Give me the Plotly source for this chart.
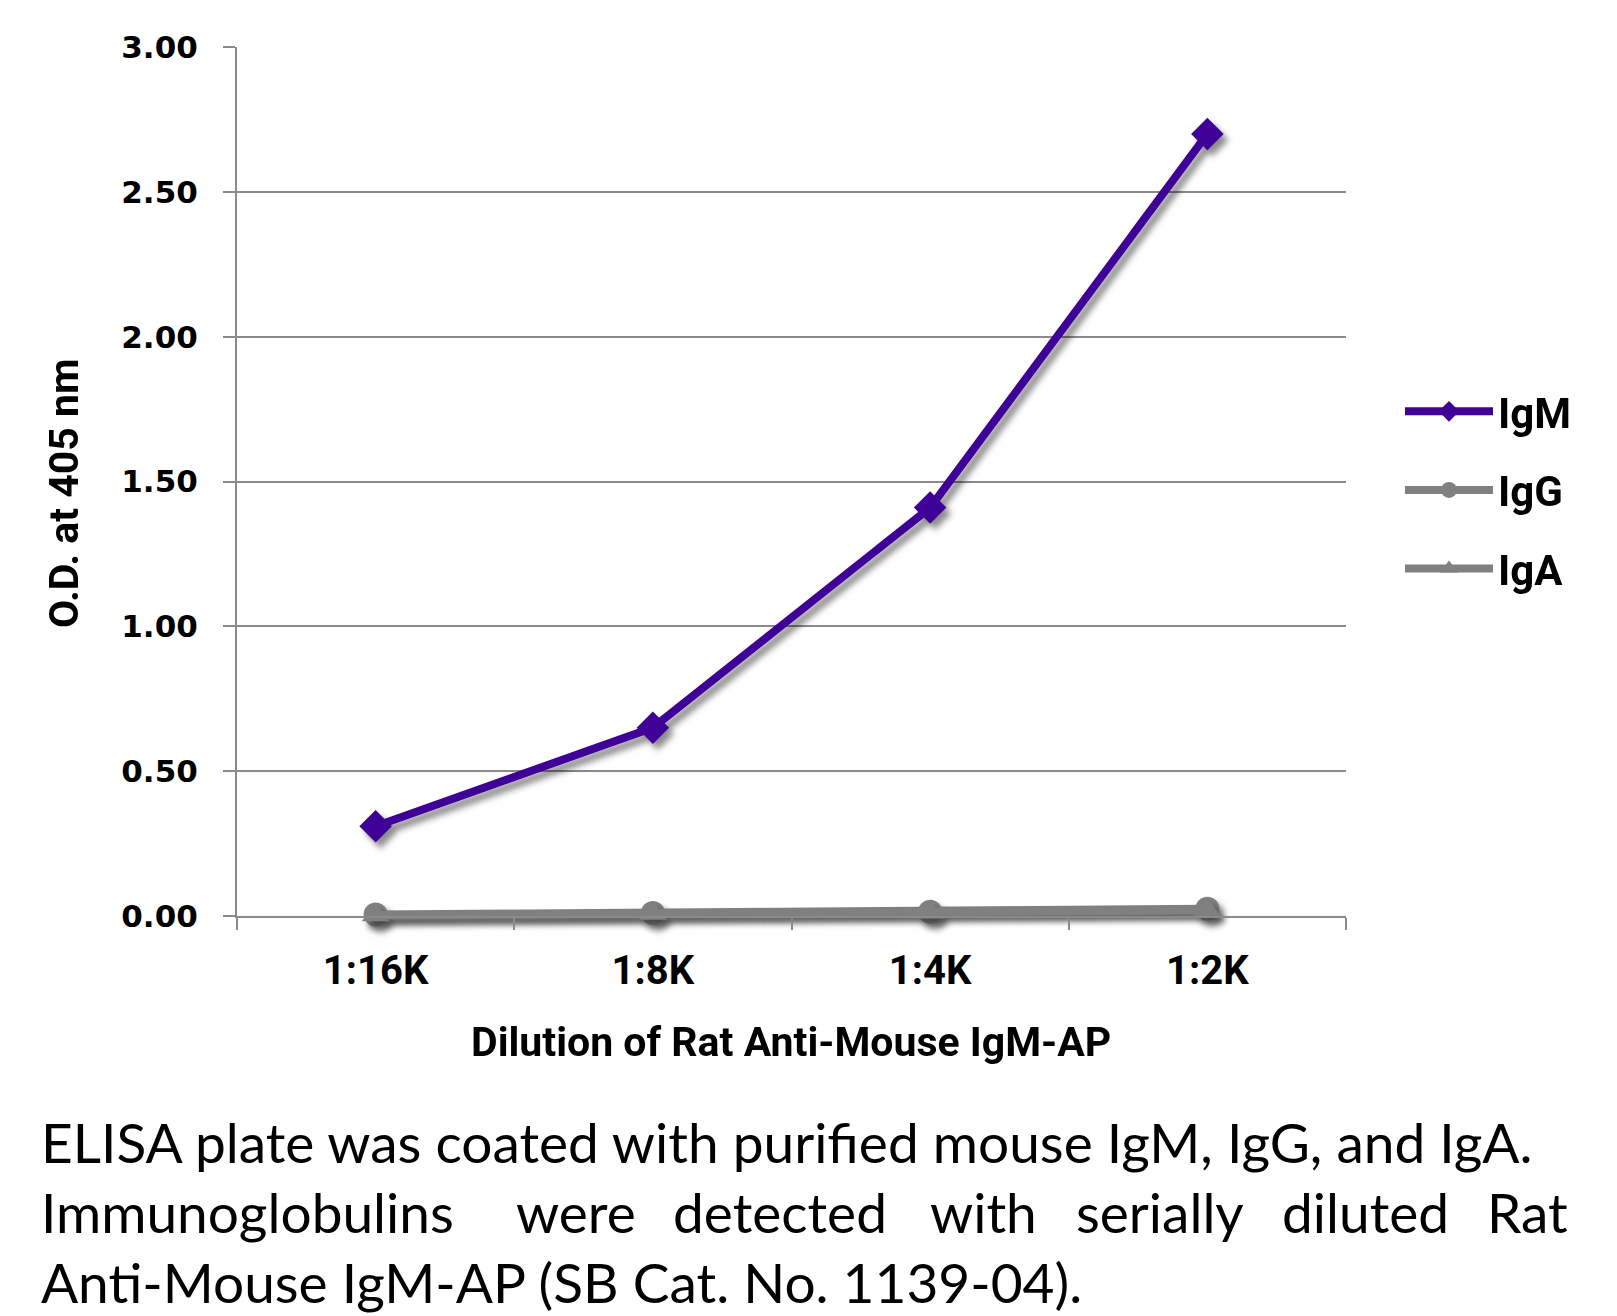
import plotly.graph_objects as go

# dilution series (x categories) and O.D. readings
dilutions = ["1:16K", "1:8K", "1:4K", "1:2K"]
igm = [0.31, 0.65, 1.41, 2.70]
igg = [0.005, 0.01, 0.015, 0.025]
iga = [0.003, 0.008, 0.012, 0.02]

y_ticks = [0, 0.5, 1.0, 1.5, 2.0, 2.5, 3.0]

caption_line1 = "ELISA plate was coated with purified mouse IgM, IgG, and IgA."
caption_line2 = ["Immunoglobulins", "were", "detected", "with", "serially", "diluted", "Rat"]
caption_line3 = "Anti-Mouse IgM-AP (SB Cat. No. 1139-04)."

W, H = 1617, 1316
L, R, T, B = 237, 1346, 47, 916

PURPLE = "#3f0097"
GREY = "#808080"
GRID = "#8a8a8a"


def px_x(px):
    return (px - L) / (R - L)


def px_y(py):
    return (B - py) / (B - T)


fig = go.Figure()

series = [
    ("IgM", igm, PURPLE, "diamond", 25),
    ("IgG", igg, GREY, "circle", 24),
    ("IgA", iga, GREY, "triangle-up", 24),
]
for name, vals, color, symbol, size in series:
    fig.add_trace(
        go.Scatter(
            x=dilutions,
            y=vals,
            name=name,
            legendgroup=name,
            mode="lines+markers",
            line=dict(color=color, width=8),
            marker=dict(symbol=symbol, size=size, color=color),
            cliponaxis=False,
        )
    )

fig.update_layout(
    width=W,
    height=H,
    margin=dict(l=L, r=W - R, t=T, b=H - B),
    plot_bgcolor="white",
    paper_bgcolor="white",
    legend=dict(
        font=dict(family="Roboto, Noto Sans, sans-serif", size=42, color="black", weight="bold"),
        bgcolor="rgba(0,0,0,0)",
        itemwidth=88,
        tracegroupgap=21,
        xanchor="left",
        yanchor="middle",
        x=px_x(1400),
        y=px_y(490),
    ),
)

fig.update_yaxes(
    range=[0, 3],
    tickvals=y_ticks,
    tickformat=".2f",
    showgrid=True,
    gridcolor=GRID,
    gridwidth=2,
    showline=True,
    linecolor=GRID,
    linewidth=2,
    ticks="outside",
    ticklen=12,
    tickwidth=2,
    tickcolor=GRID,
    zeroline=False,
    ticklabelstandoff=19,
    tickfont=dict(family="DejaVu Sans", size=31, color="black", weight="bold"),
)

fig.update_xaxes(
    type="category",
    categoryorder="array",
    categoryarray=dilutions,
    range=[-0.5, 3.5],
    tickson="boundaries",
    showgrid=False,
    showline=True,
    linecolor=GRID,
    linewidth=2,
    ticks="outside",
    ticklen=12,
    tickwidth=2,
    tickcolor=GRID,
    ticklabelstandoff=18,
    tickfont=dict(family="Roboto, sans-serif", size=40, color="black", weight="bold"),
)

# axis titles
fig.add_annotation(
    text="Dilution of Rat Anti-Mouse IgM-AP",
    xref="paper", yref="paper", x=px_x(791), y=px_y(1042),
    xanchor="center", yanchor="middle", showarrow=False,
    font=dict(family="Roboto, sans-serif", size=41, color="black", weight="bold"),
)
fig.add_annotation(
    text="O.D. at 405 nm",
    xref="paper", yref="paper", x=px_x(64), y=px_y(493),
    xanchor="center", yanchor="middle", textangle=-90, showarrow=False,
    font=dict(family="Roboto, sans-serif", size=41, color="black", weight="bold"),
)

# caption (line 2 is justified, so its words are placed one by one)
cap_font = dict(family="Lato, Noto Sans, sans-serif", size=55, color="black")
fig.add_annotation(
    text=caption_line1, xref="paper", yref="paper", x=px_x(39), y=px_y(1142),
    xanchor="left", yanchor="middle", showarrow=False, font=cap_font,
)
word_x = [39, 514, 671, 928, 1074, 1280, 1570]
for i, (word, wx) in enumerate(zip(caption_line2, word_x)):
    fig.add_annotation(
        text=word, xref="paper", yref="paper", x=px_x(wx), y=px_y(1212),
        xanchor="right" if i == len(caption_line2) - 1 else "left",
        yanchor="middle", showarrow=False, font=cap_font,
    )
fig.add_annotation(
    text=caption_line3, xref="paper", yref="paper", x=px_x(39), y=px_y(1282),
    xanchor="left", yanchor="middle", showarrow=False, font=cap_font,
)

post_js = (
    "document.body.style.margin='0';"
    "document.querySelectorAll('.scatterlayer [clip-path]').forEach(function(e){"
    "e.removeAttribute('clip-path');});"
    "document.querySelectorAll('.scatterlayer .trace').forEach(function(t){"
    "t.style.filter='drop-shadow(5px 6px 3px rgba(0,0,0,0.45))';});"
)
fig.write_html("out.html", post_script=post_js, config={"displayModeBar": False})
